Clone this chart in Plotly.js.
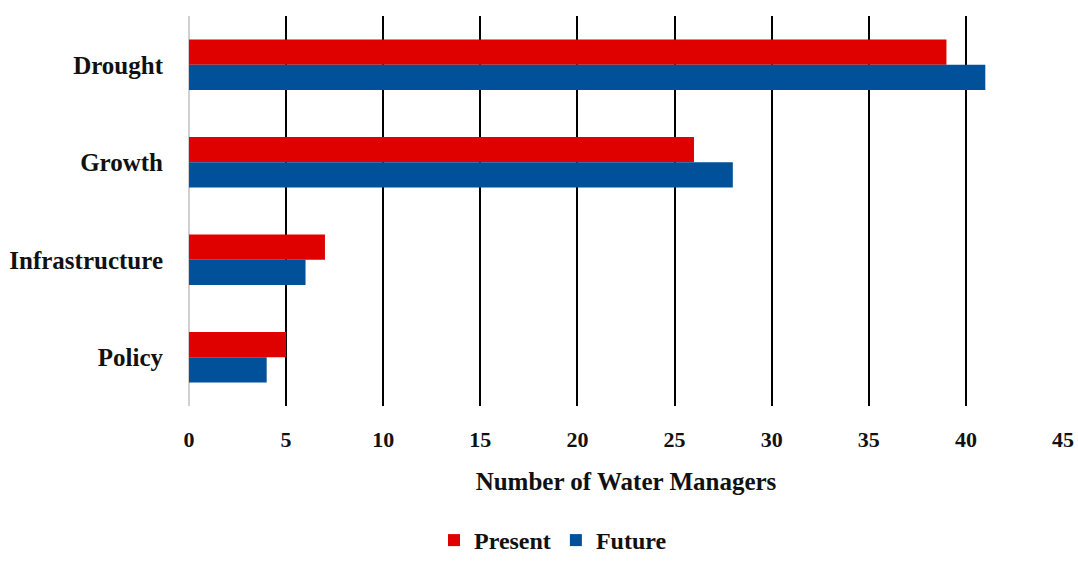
<!DOCTYPE html>
<html>
<head>
<meta charset="utf-8">
<script src="https://cdn.plot.ly/plotly-3.0.1.min.js"></script>
<style>html,body{margin:0;padding:0;background:#fff;}#chart{width:1078px;height:563px;}</style>
</head>
<body>
<div id="chart"></div>
<script>
const categories = ["Drought", "Growth", "Infrastructure", "Policy"];
const presentValues = [39, 26, 7, 5];
const futureValues = [41, 28, 6, 4];
const xTickVals = [0, 5, 10, 15, 20, 25, 30, 35, 40, 45];

const fontFamily = '"Liberation Serif", "DejaVu Serif", serif';

const traces = [
  {type: 'bar', orientation: 'h', name: '<b>Present</b>', y: categories, x: presentValues,
   marker: {color: '#DF0000'}},
  {type: 'bar', orientation: 'h', name: '<b>Future</b>', y: categories, x: futureValues,
   marker: {color: '#00519A'}}
];

const layout = {
  width: 1078, height: 563,
  margin: {l: 189, r: 15, t: 16, b: 157, autoexpand: false},
  paper_bgcolor: '#fff', plot_bgcolor: '#fff',
  barmode: 'group', bargap: 0.48, bargroupgap: 0,
  font: {family: fontFamily, color: '#111', size: 22},
  xaxis: {
    range: [0, 45], tickvals: xTickVals, ticktext: xTickVals.map(v => '<b>' + v + '</b>'),
    showgrid: true, gridcolor: '#000', gridwidth: 2,
    zeroline: true, zerolinecolor: '#d0d0d0', zerolinewidth: 2,
    showline: false, ticks: '', ticklabelstandoff: 18, automargin: false,
    tickfont: {family: fontFamily, size: 22, color: '#111'},
    title: {text: '<b>Number of Water Managers</b>', font: {family: fontFamily, size: 25, color: '#111'}, standoff: 21},
    fixedrange: true
  },
  yaxis: {
    type: 'category', autorange: 'reversed', showgrid: false, zeroline: false, showline: false,
    ticks: '', ticklabelstandoff: 25, automargin: false,
    tickvals: categories, ticktext: categories.map(c => '<b>' + c + '</b>'),
    tickfont: {family: fontFamily, size: 25, color: '#111'}, fixedrange: true
  },
  showlegend: true,
  legend: {orientation: 'h', x: 553 / 1078, xref: 'container', xanchor: 'center',
    y: -0.012, yref: 'container', yanchor: 'bottom',
    font: {family: fontFamily, size: 24, color: '#111'}, traceorder: 'normal', itemwidth: 30}
};

Plotly.newPlot('chart', traces, layout, {displayModeBar: false, staticPlot: true});
</script>
</body>
</html>
